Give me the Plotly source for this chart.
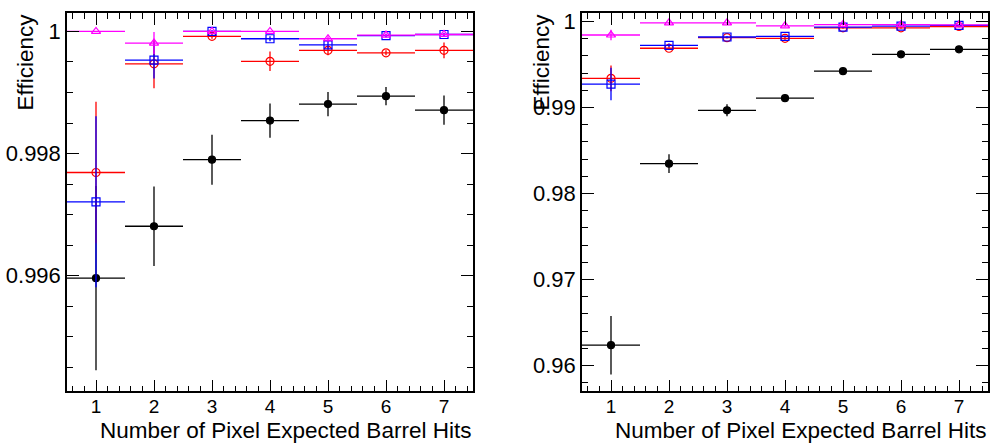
import plotly.graph_objects as go

# ---------------- data ----------------
hits = [1, 2, 3, 4, 5, 6, 7]
bin_half = [0.5] * 7

# left panel
L_black = [0.99596, 0.99681, 0.99790, 0.99854, 0.99881, 0.99894, 0.99871]
L_black_err = [0.00151, 0.00065, 0.00041, 0.00028, 0.00020, 0.00015, 0.00024]
L_red = [0.99769, 0.99947, 0.99992, 0.99951, 0.99969, 0.99965, 0.99969]
L_red_err = [0.00116, 0.00040, 0.00004, 0.00016, 0.00008, 0.00004, 0.00013]
L_blue = [0.99721, 0.99953, 1.00000, 0.99988, 0.99978, 0.99993, 0.99995]
L_blue_err = [0.00140, 0.00030, 0.00002, 0.00004, 0.00006, 0.00003, 0.00003]
L_mag = [1.00000, 0.99981, 1.00000, 1.00000, 0.99988, 0.99994, 0.99995]
L_mag_err = [0.00000, 0.00018, 0.00000, 0.00000, 0.00004, 0.00002, 0.00002]

# right panel
R_black = [0.96236, 0.98347, 0.98967, 0.99108, 0.99423, 0.99619, 0.99677]
R_black_err = [0.0034, 0.0011, 0.0007, 0.0004, 0.0002, 0.0001, 0.0001]
R_red = [0.99339, 0.99689, 0.99812, 0.99804, 0.99927, 0.99927, 0.99942]
R_red_err = [0.0015, 0.0002, 0.0001, 0.0002, 0.0001, 0.0001, 0.0001]
R_blue = [0.99273, 0.99723, 0.99820, 0.99827, 0.99935, 0.99947, 0.99954]
R_blue_err = [0.0019, 0.0002, 0.0001, 0.0001, 0.0001, 0.0001, 0.0001]
R_mag = [0.99843, 0.99985, 0.99985, 0.99950, 0.99965, 0.99965, 0.99962]
R_mag_err = [0.0006, 0.0001, 0.0001, 0.0001, 0.0001, 0.0001, 0.0001]

x_ticks = [1, 2, 3, 4, 5, 6, 7]
x_ticktext = ["1", "2", "3", "4", "5", "6", "7"]
L_yticks = [0.996, 0.998, 1.0]
L_yticktext = ["0.996", "0.998", "1"]
R_yticks = [0.96, 0.97, 0.98, 0.99, 1.0]
R_yticktext = ["0.96", "0.97", "0.98", "0.99", "1"]

x_title = "Number of Pixel Expected Barrel Hits"
y_title = "Efficiency"

FONT = "Liberation Sans, Arial, Helvetica, sans-serif"

fig = go.Figure()


def add_series(y, err, color, symbol, size, xa, ya):
    fig.add_trace(go.Scatter(
        x=hits, y=y, mode="markers",
        xaxis=xa, yaxis=ya,
        marker=dict(symbol=symbol, size=size, color=color,
                    line=dict(color=color, width=1.2)),
        error_x=dict(type="data", array=bin_half, color=color, thickness=1.3, width=0),
        error_y=dict(type="data", array=err, color=color, thickness=1.3, width=0),
        showlegend=False, cliponaxis=True,
    ))


add_series(L_black, L_black_err, "black", "circle", 7, "x", "y")
add_series(L_red, L_red_err, "#ff0000", "circle-open", 8, "x", "y")
add_series(L_blue, L_blue_err, "#0000ff", "square-open", 8, "x", "y")
add_series(L_mag, L_mag_err, "#ff00ff", "triangle-up-open", 8, "x", "y")

add_series(R_black, R_black_err, "black", "circle", 7, "x2", "y2")
add_series(R_red, R_red_err, "#ff0000", "circle-open", 8, "x2", "y2")
add_series(R_blue, R_blue_err, "#0000ff", "square-open", 8, "x2", "y2")
add_series(R_mag, R_mag_err, "#ff00ff", "triangle-up-open", 8, "x2", "y2")

W, H = 993, 446
L_dom = [67 / W, 473 / W]
R_dom = [582 / W, 988 / W]
Y_dom = [1 - 391 / H, 1 - 9 / H]

xaxis_common = dict(
    range=[0.5, 7.5], tickvals=x_ticks, ticktext=x_ticktext,
    ticks="inside", ticklen=12, tickwidth=1.2, tickcolor="black",
    showline=True, linecolor="black", linewidth=1.5, mirror="ticks",
    showgrid=False, zeroline=False, ticklabelstandoff=-3,
    tickfont=dict(family=FONT, size=19, color="black"),
    minor=dict(dtick=0.2, tick0=0, ticks="inside", ticklen=6, tickwidth=1, tickcolor="black", showgrid=False),
)
yaxis_common = dict(
    ticks="inside", ticklen=12, tickwidth=1.2, tickcolor="black",
    showline=True, linecolor="black", linewidth=1.5, mirror="ticks",
    showgrid=False, zeroline=False,
    tickfont=dict(family=FONT, size=22, color="black"),
)

fig.update_layout(
    width=W, height=H,
    margin=dict(l=0, r=0, t=0, b=0),
    paper_bgcolor="white", plot_bgcolor="white",
    xaxis=dict(domain=L_dom, anchor="y", **xaxis_common),
    yaxis=dict(domain=Y_dom, anchor="x", range=[0.994104, 1.000303],
               tickvals=L_yticks, ticktext=L_yticktext,
               minor=dict(dtick=0.0005, tick0=0.994, ticks="inside", ticklen=6, tickwidth=1,
                          tickcolor="black", showgrid=False),
               **yaxis_common),
    xaxis2=dict(domain=R_dom, anchor="y2", **xaxis_common),
    yaxis2=dict(domain=Y_dom, anchor="x2", range=[0.95697, 1.001],
                tickvals=R_yticks, ticktext=R_yticktext,
                minor=dict(dtick=0.002, tick0=0.96, ticks="inside", ticklen=6, tickwidth=1,
                           tickcolor="black", showgrid=False),
                **yaxis_common),
)

# axis titles (ROOT style: right/top aligned)
for xr in (473, 988):
    fig.add_annotation(text=x_title, xref="paper", yref="paper", x=xr / W, y=1 - 430 / H,
                       xanchor="right", yanchor="middle", showarrow=False,
                       font=dict(family=FONT, size=22.5, color="black"))
for xc in (25, 541):
    fig.add_annotation(text=y_title, xref="paper", yref="paper", x=xc / W, y=1 - 8 / H,
                       xanchor="center", yanchor="top", textangle=-90, showarrow=False,
                       font=dict(family=FONT, size=22.5, color="black"))

fig.write_html("out.html", config={"displayModeBar": False},
               post_script="document.body.style.margin='0';document.body.style.padding='0';")
